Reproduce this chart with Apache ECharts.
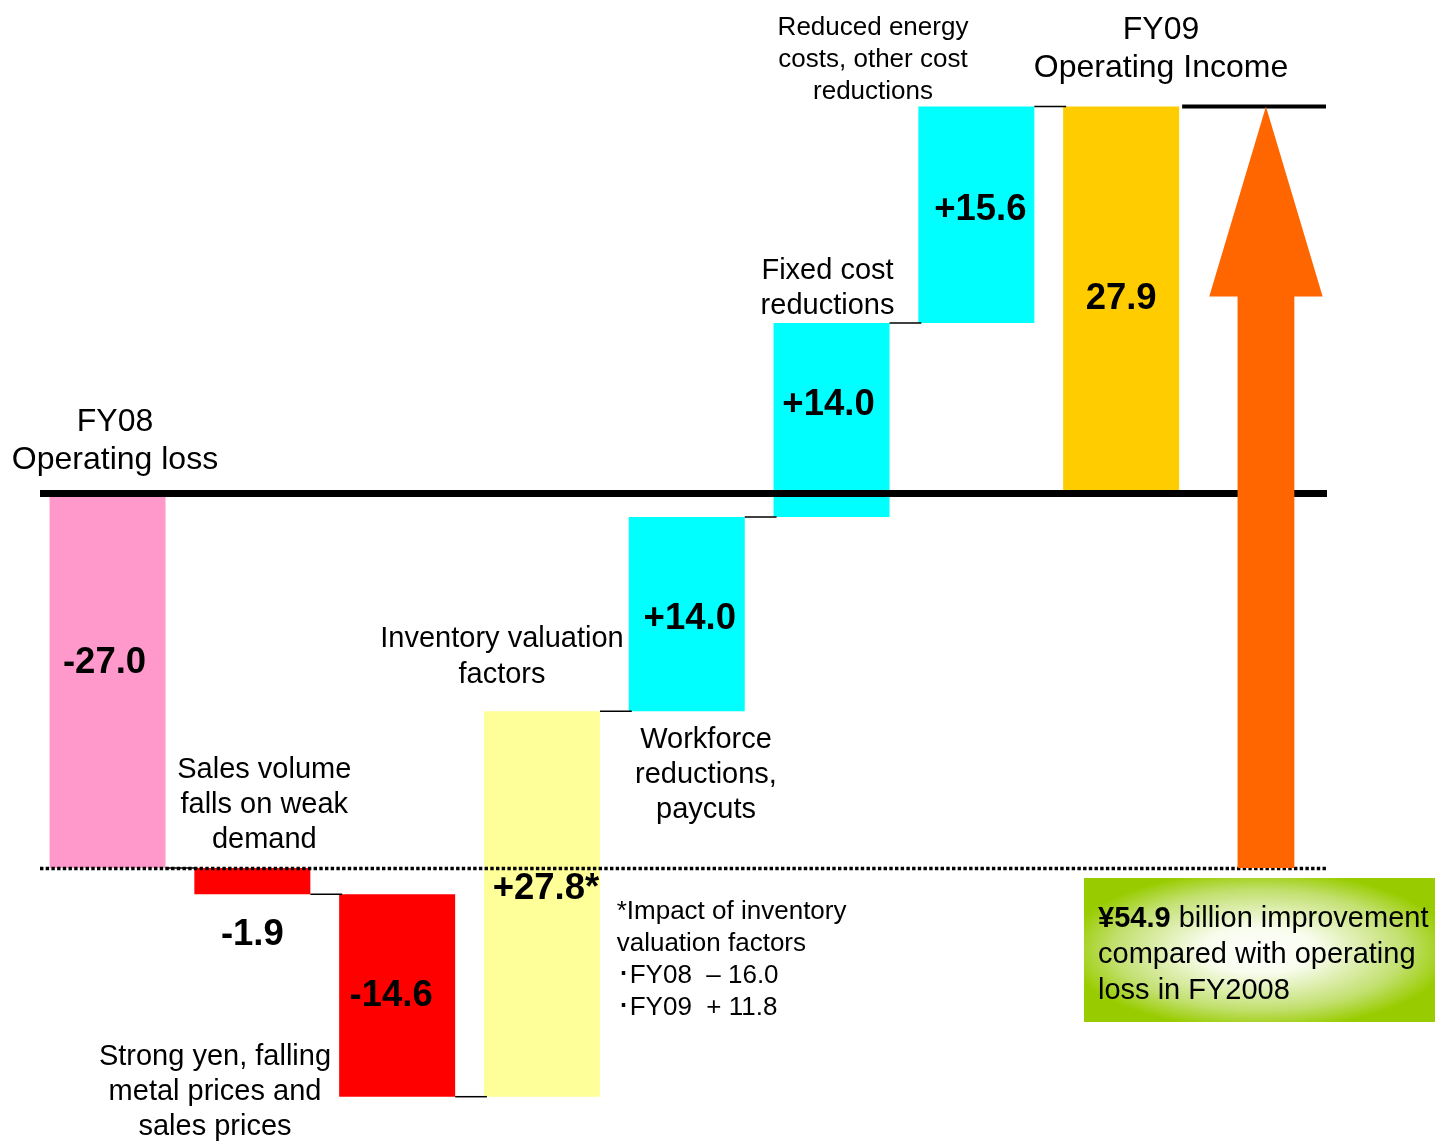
<!DOCTYPE html>
<html>
<head>
<meta charset="utf-8">
<script src="https://cdn.jsdelivr.net/npm/echarts@6/dist/echarts.min.js"></script>
<style>
  html, body { margin: 0; padding: 0; background: #ffffff; }
  #chart { width: 1435px; height: 1141px; }
</style>
</head>
<body>
<div id="chart"></div>
<script>
// Operating income bridge FY08 -> FY09 (billion yen)
const categories = ['FY08 Operating loss', 'Sales volume', 'Strong yen, metal & sales prices',
  'Inventory valuation', 'Workforce reductions', 'Fixed cost reductions',
  'Energy & other costs', 'FY09 Operating Income', 'Improvement'];
const deltas = [-27.0, -1.9, -14.6, 27.8, 14.0, 14.0, 15.6, 27.9];
const isTotal = [true, false, false, false, false, false, false, true];
const footMarks = ['', '', '', '*', '', '', '', ''];

// styling
const FONT = '"Liberation Sans", Arial, Helvetica, sans-serif';
const barColors = ['#FF99CC', '#FF0000', '#FF0000', '#FFFF99', '#00FFFF', '#00FFFF', '#00FFFF', '#FFCC00'];
const labelShift = [[-3, -18], [0, 54], [-6, 0], [4, -15], [3, 5], [-3, -15], [4, -5], [0, -1.5]];
const BAR_W = 116;

// running levels of the bridge: [index, from, to]
let level = 0;
const steps = deltas.map((d, i) => {
  const from = isTotal[i] ? 0 : level;
  const to = +(from + d).toFixed(1);
  level = to;
  return [i, from, to];
});
const improvement = +(steps[7][2] - steps[0][2]).toFixed(1);

function barLabel(i) {
  const d = deltas[i];
  const sign = (!isTotal[i] && d > 0) ? '+' : '';
  return sign + d.toFixed(1) + footMarks[i];
}

const notes = [
  { t: 'FY08\nOperating loss', x: 115, y: 441.5, s: 32, lh: 38, a: 'center' },
  { t: 'FY09\nOperating Income', x: 1161, y: 49.3, s: 32, lh: 38, a: 'center' },
  { t: 'Reduced energy\ncosts, other cost\nreductions', x: 873, y: 60, s: 26, lh: 32.2, a: 'center' },
  { t: 'Fixed cost\nreductions', x: 827.5, y: 288.3, s: 29, lh: 35, a: 'center' },
  { t: 'Inventory valuation\nfactors', x: 502, y: 656.6, s: 29, lh: 35.8, a: 'center' },
  { t: 'Workforce\nreductions,\npaycuts', x: 706, y: 775, s: 29, lh: 35.3, a: 'center' },
  { t: 'Sales volume\nfalls on weak\ndemand', x: 264.3, y: 804.8, s: 29, lh: 35.3, a: 'center' },
  { t: 'Strong yen, falling\nmetal prices and\nsales prices', x: 215, y: 1091.5, s: 29, lh: 35, a: 'center' },
  { t: '*Impact of inventory\nvaluation factors\n\uFF65FY08  \u2013 16.0\n\uFF65FY09  + 11.8', x: 616.7, y: 959.9, s: 26, lh: 32.2, a: 'left' }
];

const noteGraphics = notes.map(n => ({
  type: 'text',
  z: 10,
  style: {
    text: n.t, x: n.x, y: n.y,
    font: n.s + 'px ' + FONT,
    lineHeight: n.lh,
    fill: '#000000',
    align: n.a, textAlign: n.a,
    verticalAlign: 'middle', textVerticalAlign: 'middle'
  }
}));

const BOX = { x: 1084, y: 878, w: 351, h: 144 };
const boxGraphic = {
  type: 'group',
  x: BOX.x, y: BOX.y,
  z: 10,
  children: [
    {
      type: 'rect',
      scaleX: BOX.w / BOX.h,
      shape: { x: 0, y: 0, width: BOX.h, height: BOX.h },
      style: {
        fill: {
          type: 'radial', x: 0.5, y: 0.5, r: 0.55,
          colorStops: [
            { offset: 0, color: '#FFFFFF' },
            { offset: 0.3, color: '#F8FCEC' },
            { offset: 0.75, color: '#C2E070' },
            { offset: 1, color: '#99CC00' }
          ]
        }
      }
    },
    {
      type: 'text',
      style: {
        text: '{b|\u00A5' + improvement.toFixed(1) + '}{r| billion improvement}\n{r|compared with operating}\n{r|loss in FY2008}',
        x: 14, y: 77,
        fontSize: 29,
        fontFamily: FONT,
        lineHeight: 35.6,
        fill: '#000000',
        align: 'left', textAlign: 'left',
        verticalAlign: 'middle', textVerticalAlign: 'middle',
        rich: {
          b: { fontSize: 29, fontFamily: FONT, fontWeight: 'bold', lineHeight: 35.6, fill: '#000000' },
          r: { fontSize: 29, fontFamily: FONT, fontWeight: 'normal', lineHeight: 35.6, fill: '#000000' }
        }
      }
    }
  ]
};

const chart = echarts.init(document.getElementById('chart'), null, { renderer: 'canvas' });

chart.setOption({
  animation: false,
  backgroundColor: '#ffffff',
  grid: { left: 35.15, top: 77.5, width: 1303.2, height: 1040 },
  xAxis: { type: 'category', data: categories, show: false, boundaryGap: true },
  yAxis: { type: 'value', min: -45, max: 30, show: false, splitLine: { show: false } },
  graphic: noteGraphics.concat([boxGraphic]),
  series: [
    {
      name: 'Bridge',
      type: 'custom',
      z: 2,
      encode: { x: 0, y: [1, 2] },
      data: steps,
      renderItem: function (params, api) {
        const i = api.value(0);
        const p0 = api.coord([i, api.value(1)]);
        const p1 = api.coord([i, api.value(2)]);
        const top = Math.min(p0[1], p1[1]);
        const h = Math.abs(p1[1] - p0[1]);
        const sh = labelShift[i];
        return {
          type: 'group',
          children: [
            { type: 'rect', shape: { x: p0[0] - BAR_W / 2, y: top, width: BAR_W, height: h }, style: { fill: barColors[i] } },
            {
              type: 'text', z2: 5,
              style: {
                text: barLabel(i), x: p0[0] + sh[0], y: top + h / 2 + sh[1],
                font: 'bold 36.5px ' + FONT, fill: '#000000',
                align: 'center', textAlign: 'center',
                verticalAlign: 'middle', textVerticalAlign: 'middle'
              }
            }
          ]
        };
      }
    },
    {
      name: 'Connectors',
      type: 'custom',
      z: 3,
      encode: { x: 0, y: 1 },
      data: steps.slice(0, 7).map(s => [s[0], s[2]]),
      renderItem: function (params, api) {
        const i = api.value(0);
        const a = api.coord([i, api.value(1)]);
        const b = api.coord([i + 1, api.value(1)]);
        return {
          type: 'line',
          shape: { x1: a[0] + BAR_W / 2, y1: a[1], x2: b[0] - BAR_W / 2 + 3, y2: a[1] },
          style: { stroke: '#000000', lineWidth: 1.5 }
        };
      }
    },
    {
      name: 'Reference lines',
      type: 'custom',
      z: 3,
      encode: { x: 0, y: 1 },
      data: [[0, 0]],
      renderItem: function (params, api) {
        const y0 = api.coord([0, 0])[1];
        const yLoss = Math.round(api.coord([0, steps[0][2]])[1]) + 0.5;
        const pInc = api.coord([7, steps[7][2]]);
        return {
          type: 'group',
          children: [
            { type: 'line', shape: { x1: 40, y1: y0, x2: 1327, y2: y0 }, style: { stroke: '#000000', lineWidth: 7 } },
            { type: 'line', shape: { x1: 40, y1: yLoss, x2: 1327, y2: yLoss }, style: { stroke: '#000000', lineWidth: 3.4, lineDash: [3.4, 2.3] } },
            { type: 'line', shape: { x1: pInc[0] + BAR_W / 2 + 3, y1: pInc[1], x2: 1326, y2: pInc[1] }, style: { stroke: '#000000', lineWidth: 4 } }
          ]
        };
      }
    },
    {
      name: 'Improvement',
      type: 'custom',
      z: 4,
      encode: { x: 0, y: [1, 2] },
      data: [[8, steps[0][2], steps[7][2]]],
      renderItem: function (params, api) {
        const i = api.value(0);
        const base = api.coord([i, api.value(1)]);
        const tip = api.coord([i, api.value(2)]);
        const cx = base[0];
        const shaft = 28.4, head = 56.7, headLen = 190;
        const hy = tip[1] + headLen;
        return {
          type: 'polygon',
          shape: {
            points: [
              [cx - shaft, base[1]], [cx - shaft, hy], [cx - head, hy], [cx, tip[1]],
              [cx + head, hy], [cx + shaft, hy], [cx + shaft, base[1]]
            ]
          },
          style: { fill: '#FF6600' }
        };
      }
    }
  ]
});
</script>
</body>
</html>
